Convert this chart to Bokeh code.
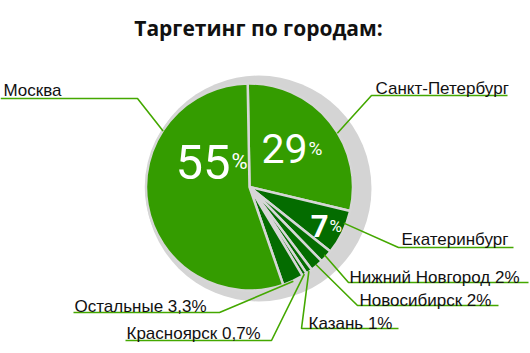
import math
from bokeh.plotting import figure
from bokeh.models import Range1d
from bokeh.core.properties import value
from bokeh.embed import file_html
from bokeh.resources import INLINE

W, H = 530, 353

# ---- data ----
cities = ["Санкт-Петербург", "Екатеринбург", "Нижний Новгород", "Новосибирск",
          "Казань", "Красноярск", "Остальные", "Москва"]
shares = [29, 7, 2, 2, 1, 0.7, 3.3, 55]
city_labels = ["Санкт-Петербург", "Екатеринбург", "Нижний Новгород 2%", "Новосибирск 2%",
               "Казань 1%", "Красноярск 0,7%", "Остальные 3,3%", "Москва"]
title = "Таргетинг по городам:"

# ---- style / layout ----
LIGHT, DARK = "#349c00", "#046c00"
slice_colors = [LIGHT, DARK, DARK, DARK, DARK, DARK, DARK, LIGHT]
SEP = "#d6d6d6"
LEAD = "#44a800"
CX, CY, R = 249, 186.5, 103.5       # pie centre / radius in pixels (y down)
SH_X, SH_Y, SH_R = 258, 188, 113    # grey shadow disc
START = 91.0                        # degrees, slices run clockwise from here

# per label: text x, text baseline, elbow x, elbow y, far end x,
# anchor fraction inside slice (measured clockwise), anchor radius
lab_layout = [
    (375, 88, 371, 95, 507, 0.57, 103),
    (401, 239, 398, 247, 513, 0.30, 101),
    (349, 277, 348, 282, 528, 0.5, 101),
    (359, 300, 357, 305, 498, 0.5, 102),
    (308, 323, 301, 328, 398, 0.5, 103),
    (126, 333, 271, 340, 125, 0.5, 103),
    (74, 306, 219, 312, 73, 0.5, 104),
    (3, 90, 137, 98, 0, 0.717, 103),
]
# big in-slice percentages: index, right x of digits, baseline, digit size, % size, style
pct_layout = [
    (7, 230, 161, "49px", "22px", "normal"),
    (0, 307, 148, "41px", "19px", "normal"),
    (1, 328, 225, "31px", "17px", "bold"),
]

def Y(py):
    return H - py

p = figure(width=W, height=H, x_range=Range1d(0, W), y_range=Range1d(0, H),
           output_backend="svg", toolbar_location=None, min_border=0,
           x_axis_location=None, y_axis_location=None)
p.grid.visible = False
p.outline_line_color = None
p.background_fill_color = "white"

# shadow disc
p.circle(x=[SH_X], y=[Y(SH_Y)], radius=SH_R, fill_color="#d4d4d4", line_color=None)

# slices (clockwise from START)
starts, ends = [], []
a = START
for s in shares:
    sweep = s * 3.6
    starts.append(a - sweep)
    ends.append(a)
    a -= sweep
p.wedge(x=[CX] * len(shares), y=[Y(CY)] * len(shares), radius=R,
        start_angle=[math.radians(v) for v in starts],
        end_angle=[math.radians(v) for v in ends],
        fill_color=slice_colors, line_color=SEP, line_width=2.5)

# leader lines + labels
xs, ys = [], []
for i, (tx, tb, ex, ey, fx, frac, ar) in enumerate(lab_layout):
    ang = math.radians(ends[i] - frac * (ends[i] - starts[i]))
    px = CX + ar * math.cos(ang)
    py = CY - ar * math.sin(ang)
    xs.append([px, ex, fx])
    ys.append([Y(py), Y(ey), Y(ey)])
p.multi_line(xs=xs, ys=ys, line_color=LEAD, line_width=1.6)

p.text(x=[l[0] for l in lab_layout], y=[Y(l[1]) for l in lab_layout], text=city_labels,
       text_font=value("Liberation Sans"), text_font_size="17px",
       text_color="#111111", text_baseline="alphabetic", text_align="left")

for idx, rx, bl, dsz, psz, st in pct_layout:
    num = f"{shares[idx]:g}"
    p.text(x=[rx], y=[Y(bl)], text=[num], text_font=value("Roboto"),
           text_font_size=dsz, text_font_style=st, text_color="white",
           text_baseline="alphabetic", text_align="right")
    p.text(x=[rx + 1], y=[Y(bl)], text=["%"], text_font=value("Roboto"),
           text_font_size=psz, text_font_style="normal", text_color="white",
           text_baseline="alphabetic", text_align="left")

# title
p.text(x=[258], y=[Y(27)], text=[title], text_font=value("Open Sans"),
       text_font_size="21px", text_font_style="bold", text_color="#111111",
       text_baseline="alphabetic", text_align="center")

open("out.html", "w").write(file_html(p, INLINE))
